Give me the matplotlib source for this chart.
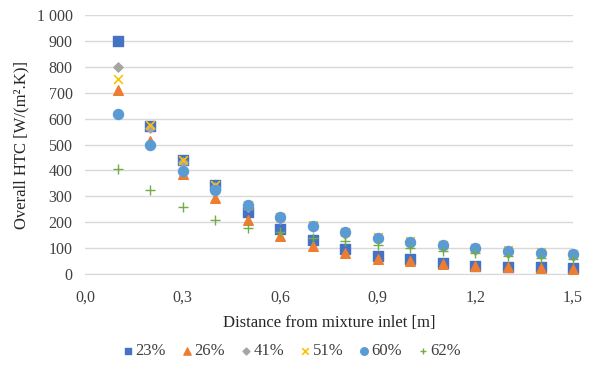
import matplotlib
matplotlib.use("Agg")
import matplotlib.pyplot as plt
from matplotlib.ticker import FuncFormatter, MultipleLocator

plt.rcParams["font.family"] = ["Liberation Serif", "DejaVu Serif"]

# Distance from mixture inlet [m]
distance = [0.1, 0.2, 0.3, 0.4, 0.5, 0.6, 0.7, 0.8, 0.9, 1.0, 1.1, 1.2, 1.3, 1.4, 1.5]

# Overall HTC [W/(m2.K)] per mixture concentration
htc_23 = [900, 570, 440, 344, 240, 176, 131, 97, 69, 57, 41, 33, 28, 26, 22]
htc_26 = [710, 515, 386, 293, 208, 148, 108, 80, 57, 50, 38, 30, 26, 23, 20]
htc_41 = [800, 562, 432, 336, 258, 214, 180, 155, 134, 118, 104, 93, 83, 76, 70]
htc_51 = [752, 575, 442, 344, 268, 222, 190, 164, 143, 126, 114, 102, 92, 85, 79]
htc_60 = [619, 498, 398, 324, 266, 219, 186, 161, 140, 122, 112, 99, 89, 82, 77]
htc_62 = [407, 324, 259, 208, 178, 163, 139, 127, 112, 99, 90, 81, 70, 63, 58]

labels = ["23%", "26%", "41%", "51%", "60%", "62%"]
series = [htc_23, htc_26, htc_41, htc_51, htc_60, htc_62]
styles = [
    dict(marker="s", color="#4472C4", s=42),
    dict(marker="^", color="#ED7D31", s=48),
    dict(marker="D", color="#A5A5A5", s=22),
    dict(marker="x", color="#FFC000", s=40, linewidths=1.2),
    dict(marker="o", color="#5B9BD5", s=52),
    dict(marker="+", color="#70AD47", s=45, linewidths=1.0),
]

fig = plt.figure(figsize=(5.92, 3.65), dpi=100)
ax = fig.add_axes([0.1436, 0.249, 0.8244, 0.710])

for lab, vals, st in zip(labels, series, styles):
    ax.scatter(distance, vals, label=lab, zorder=3, clip_on=False, **st)

ax.set_xlim(0, 1.5)
ax.set_ylim(0, 1000)
ax.xaxis.set_major_locator(MultipleLocator(0.3))
ax.yaxis.set_major_locator(MultipleLocator(100))
ax.xaxis.set_major_formatter(FuncFormatter(lambda v, p: f"{v:.1f}".replace(".", ",")))
ax.yaxis.set_major_formatter(FuncFormatter(lambda v, p: f"{v:,.0f}".replace(",", " ")))

ax.grid(axis="y", color="#D9D9D9", linewidth=1.0, zorder=0)
for side in ["top", "right", "left"]:
    ax.spines[side].set_visible(False)
ax.spines["bottom"].set_color("#D9D9D9")
ax.tick_params(axis="both", length=0, labelsize=11.5, colors="#404040")
ax.tick_params(axis="x", pad=11)
ax.tick_params(axis="y", pad=9)

ax.set_xlabel("Distance from mixture inlet [m]", fontsize=12, color="#262626", labelpad=7)
ax.set_ylabel("Overall HTC [W/(m².K)]", fontsize=12, color="#262626", labelpad=5)

fig.legend(loc="lower center", bbox_to_anchor=(0.49, -0.025), ncol=6, frameon=False,
           fontsize=12, handletextpad=-0.1, columnspacing=0.7, handlelength=1.1,
           markerscale=0.75, labelcolor="#404040")

fig.savefig("out.png", dpi=100)
